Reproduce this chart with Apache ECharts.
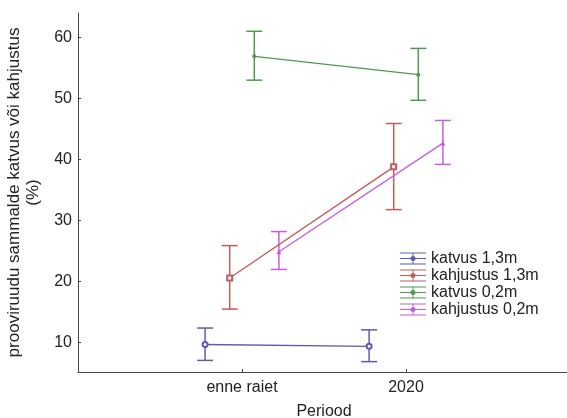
<!DOCTYPE html>
<html><head><meta charset="utf-8">
<script src="https://cdn.jsdelivr.net/npm/echarts@6/dist/echarts.min.js"></script>
<style>html,body{margin:0;padding:0;background:#fff}#c{width:567px;height:418px}</style>
</head><body><div id="c"></div>
<script>
var categories = ['enne raiet', '2020'];
var seriesNames = ['katvus 1,3m', 'kahjustus 1,3m', 'katvus 0,2m', 'kahjustus 0,2m'];
var colors = ['#5b5bb4', '#bb5e5e', '#4e9a4e', '#c65fdc'];
var offsets = [-0.225, -0.075, 0.075, 0.225];
var katvus13 = [9.7, 9.4];
var katvus13Low = [7.1, 6.9];
var katvus13High = [12.4, 12.1];
var kahjustus13 = [20.6, 38.8];
var kahjustus13Low = [15.5, 31.8];
var kahjustus13High = [25.9, 45.9];
var katvus02 = [56.9, 53.9];
var katvus02Low = [53.0, 49.7];
var katvus02High = [61.0, 58.2];
var kahjustus02 = [24.9, 42.7];
var kahjustus02Low = [22.0, 39.2];
var kahjustus02High = [28.2, 46.4];
var yTicks = [10, 20, 30, 40, 50, 60];

var means = [katvus13, kahjustus13, katvus02, kahjustus02];
var lows = [katvus13Low, kahjustus13Low, katvus02Low, kahjustus02Low];
var highs = [katvus13High, kahjustus13High, katvus02High, kahjustus02High];
var symbols = ['emptyCircle', 'emptyRect', 'circle', 'triangle'];
var symbolSizes = [5, 5, 4, 5];
var font = 'Liberation Sans';
var icon = 'path://M0,0H26V1H0Z M0,5.5H26V6.5H0Z M0,11H26V12H0Z M12.5,0H13.5V12H12.5Z M15.5,6A2.5,2.5,0,1,1,10.5,6A2.5,2.5,0,1,1,15.5,6Z';

var series = [];
seriesNames.forEach(function (name, i) {
  var pts = categories.map(function (c, j) { return [j + 1 + offsets[i], means[i][j]]; });
  var eb = categories.map(function (c, j) { return [j + 1 + offsets[i], lows[i][j], highs[i][j]]; });
  series.push({
    type: 'custom', name: name + ' err', silent: true, z: 2,
    renderItem: function (params, api) {
      var x = api.value(0);
      var lo = api.coord([x, api.value(1)]);
      var hi = api.coord([x, api.value(2)]);
      var w = 8;
      var st = { stroke: colors[i], lineWidth: 1.5 };
      return { type: 'group', children: [
        { type: 'line', shape: { x1: lo[0], y1: lo[1], x2: hi[0], y2: hi[1] }, style: st },
        { type: 'line', shape: { x1: lo[0] - w, y1: lo[1], x2: lo[0] + w, y2: lo[1] }, style: st },
        { type: 'line', shape: { x1: hi[0] - w, y1: hi[1], x2: hi[0] + w, y2: hi[1] }, style: st }
      ]};
    },
    encode: { x: 0, y: [1, 2] },
    data: eb
  });
  series.push({
    type: 'line', name: name, z: 3, data: pts,
    symbol: symbols[i], symbolSize: symbolSizes[i], showAllSymbol: true,
    lineStyle: { color: colors[i], width: 1.4 },
    itemStyle: { color: colors[i], borderWidth: 1 },
    emphasis: { disabled: true }
  });
});

var chart = echarts.init(document.getElementById('c'));
chart.setOption({
  animation: false,
  backgroundColor: '#fff',
  grid: { left: 78, top: 13, right: -3, bottom: 46, outerBoundsMode: 'none', containLabel: false },
  legend: {
    left: 395, top: 245, orient: 'vertical', itemGap: 0,
    itemWidth: 26, itemHeight: 12,
    textStyle: { fontFamily: font, fontSize: 16, color: '#222', lineHeight: 17 },
    data: seriesNames.map(function (n, i) {
      return { name: n, icon: icon, itemStyle: { color: colors[i], borderWidth: 0 } };
    })
  },
  xAxis: {
    type: 'value', min: 0, max: 3,
    name: 'Periood', nameLocation: 'middle', nameGap: 32,
    nameTextStyle: { fontFamily: font, fontSize: 16, color: '#222' },
    axisLine: { lineStyle: { color: '#444' } },
    axisTick: { inside: true, length: 3, customValues: [1, 2], lineStyle: { color: '#444' } },
    axisLabel: { customValues: [1, 2], margin: 8, fontFamily: font, fontSize: 16, color: '#222',
      formatter: function (v) { return categories[Math.round(v) - 1] || ''; } },
    splitLine: { show: false }
  },
  yAxis: {
    type: 'value', min: 5.2, max: 64,
    name: 'prooviruudu sammalde katvus või kahjustus\n(%)', nameLocation: 'middle', nameGap: 32,
    nameTextStyle: { fontFamily: font, fontSize: 17, color: '#222', lineHeight: 19 },
    axisLine: { show: true, lineStyle: { color: '#444' } },
    axisTick: { show: true, inside: true, length: 3, customValues: yTicks, lineStyle: { color: '#444' } },
    axisLabel: { customValues: yTicks, margin: 6, fontFamily: font, fontSize: 16, color: '#222' },
    splitLine: { show: false }
  },
  series: series
});
</script></body></html>
